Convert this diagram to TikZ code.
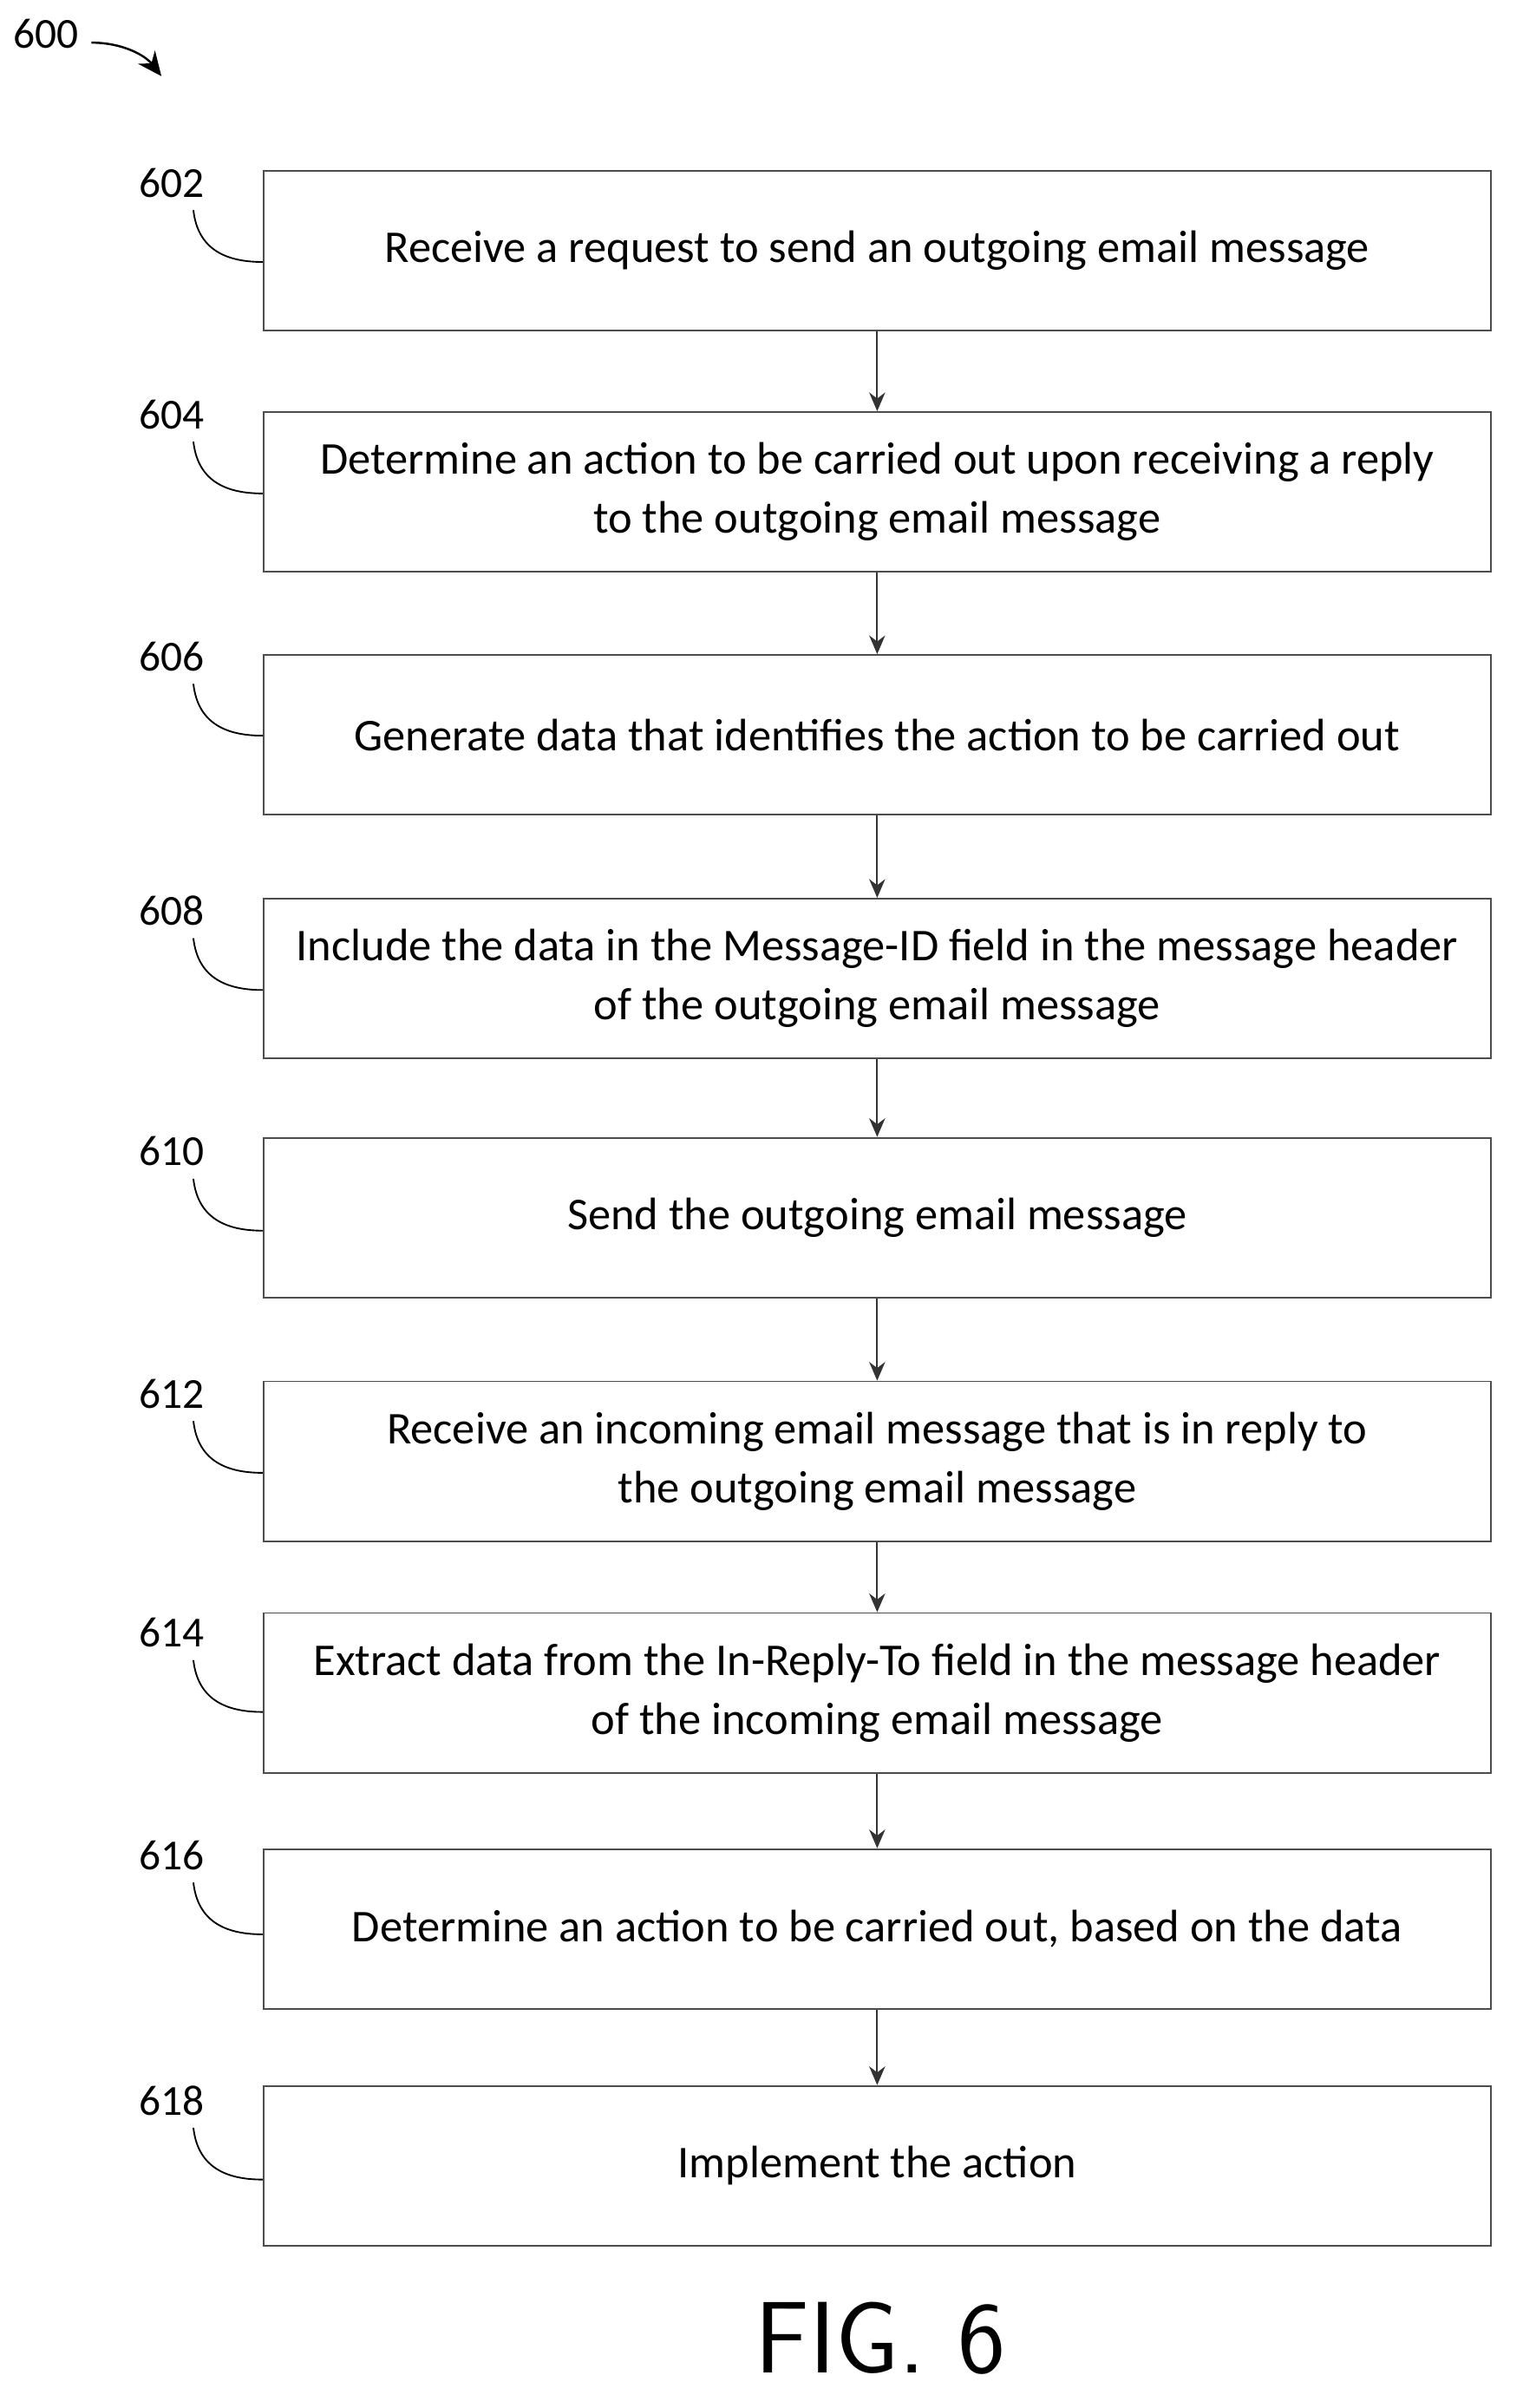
\documentclass[tikz,border=0pt]{standalone}
\usepackage{fontspec}
\setmainfont{Carlito}
\usetikzlibrary{arrows.meta}
\begin{document}
\begin{tikzpicture}[x=0.02cm,y=-0.02cm,
  box/.style={draw=black!70,line width=0.6pt,minimum width=806*0.02cm,minimum height=105*0.02cm,align=center,font=\fontsize{17}{22}\selectfont,inner sep=0pt},
  lbl/.style={font=\fontsize{16}{18}\selectfont},
  arr/.style={-{Stealth[length=7pt,width=6pt]},line width=0.6pt,black!80},
  lead/.style={line width=0.6pt}]
\useasboundingbox (0,0) rectangle (1000,1581);
\def\B#1#2#3{\node[box] (b#1) at (576,#2) {#3};}
\B{602}{164.5}{Receive a request to send an outgoing email message}
\B{604}{323}{Determine an action to be carried out upon receiving a reply\\to the outgoing email message}
\B{606}{482.5}{Generate data that identifies the action to be carried out}
\B{608}{642.5}{Include the data in the Message-ID field in the message header\\of the outgoing email message}
\B{610}{799.5}{Send the outgoing email message}
\B{612}{959.5}{Receive an incoming email message that is in reply to\\the outgoing email message}
\B{614}{1111.5}{Extract data from the In-Reply-To field in the message header\\of the incoming email message}
\B{616}{1266.5}{Determine an action to be carried out, based on the data}
\B{618}{1422}{Implement the action}
\foreach \a/\b in {602/604,604/606,606/608,608/610,610/612,612/614,614/616,616/618}
  \draw[arr] (b\a.south) -- (b\b.north);
\foreach \n/\y in {602/120,604/272,606/431,608/598,610/756,612/915,614/1072,616/1218,618/1379}{
  \node[lbl] (l\n) at (113,\y) {\n};
  \draw[lead] (127,\y+18) .. controls (130,\y+45) and (150,\y+52) .. (b\n.west|-0,\y+52);
}
\node[lbl] (l600) at (30,22) {600};
\coordinate (t600) at (106,50);
\draw[-{Stealth[length=9pt,width=8pt]},line width=0.8pt] (60,28) .. controls (80,28) and (95,36) .. (t600);
\node[font=\fontsize{38}{40}\selectfont\sffamily] (fig) at (578,1535) {FIG. 6};
\end{tikzpicture}
\end{document}
